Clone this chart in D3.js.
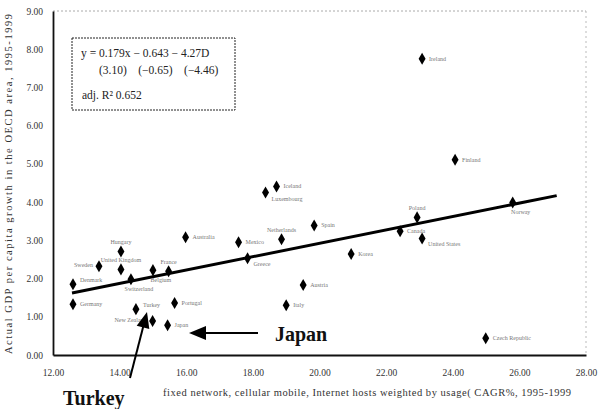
<!DOCTYPE html>
<html>
<head>
<meta charset="utf-8">
<script src="https://cdn.jsdelivr.net/npm/d3@7"></script>
<style>
  html, body { margin: 0; padding: 0; background: #fff; }
  svg { display: block; }
  text { font-family: "Liberation Serif", "DejaVu Serif", serif; }
</style>
</head>
<body>
<svg id="chart" width="599" height="409"></svg>
<script>
// ---------- data ----------
const countries = ["Ireland","Finland","Iceland","Luxembourg","Spain","Netherlands","Mexico","Australia",
  "Korea","Greece","Poland","Canada","United States","Norway","Austria","Italy","Czech Republic",
  "Hungary","Sweden","United Kingdom","Belgium","France","Denmark","Switzerland","Germany","Portugal",
  "Turkey","New Zealand","Japan"];
const telecomGrowth = [23.08,24.07,18.71,18.38,19.84,18.86,17.57,15.98,
  20.95,17.84,22.93,22.42,23.08,25.80,19.51,19.00,24.99,
  14.04,13.38,14.04,15.00,15.47,12.60,14.34,12.60,15.65,
  14.49,14.99,15.44];
const gdpGrowth = [7.75,5.11,4.41,4.25,3.39,3.03,2.95,3.08,
  2.64,2.53,3.60,3.24,3.05,3.99,1.83,1.30,0.44,
  2.71,2.32,2.24,2.22,2.19,1.85,1.98,1.33,1.36,
  1.20,0.89,0.78];
const fitX = [12.57, 27.12];
const fitY = [1.62, 4.17];
const xTicks = [12,14,16,18,20,22,24,26,28];
const yTicks = [0,1,2,3,4,5,6,7,8,9];
const eqLines = ["y = 0.179x \u2212 0.643 \u2212 4.27D", "(3.10)    (\u22120.65)    (\u22124.46)"];
const r2Label = "adj. R\u00b2 0.652";
const xTitle = "fixed network, cellular mobile, Internet hosts weighted by usage( CAGR%, 1995-1999";
const yTitle = "Actual GDP per capita growth in the OECD area, 1995-1999";

// label placement (style only)
const place = {
  "Luxembourg":"rightLow","Netherlands":"above","Greece":"rightLow","Poland":"above",
  "United States":"rightLow","Norway":"below","Hungary":"above","Sweden":"left",
  "United Kingdom":"above","Belgium":"below","France":"above","Switzerland":"below",
  "New Zealand":"left","Denmark":"rightHigh","Turkey":"rightHigh"
};

// ---------- chart ----------
const svg = d3.select("#chart");
const x = d3.scaleLinear().domain([12, 28]).range([53, 586]);
const y = d3.scaleLinear().domain([0, 9]).range([355, 11]);

// frame: dotted top/right
svg.append("line").attr("x1", x(12)).attr("x2", x(28)).attr("y1", y(9)).attr("y2", y(9))
  .attr("stroke", "#aaa").attr("stroke-width", 1).attr("stroke-dasharray", "2,2");
svg.append("line").attr("x1", x(28)).attr("x2", x(28)).attr("y1", y(9)).attr("y2", y(0))
  .attr("stroke", "#bbb").attr("stroke-width", 1).attr("stroke-dasharray", "2,3");

// axes
const xAxis = svg.append("g").attr("transform", `translate(0,${y(0)})`)
  .call(d3.axisBottom(x).tickValues(xTicks).tickFormat(d3.format(".2f")).tickSize(0).tickPadding(14));
const yAxis = svg.append("g").attr("transform", `translate(${x(12)},0)`)
  .call(d3.axisLeft(y).tickValues(yTicks).tickFormat(d3.format(".2f")).tickSize(0).tickPadding(10));
[xAxis, yAxis].forEach(g => {
  g.select(".domain").attr("stroke", "#111").attr("stroke-width", 1.8);
  g.selectAll("text").attr("font-family", "Liberation Serif, serif").attr("font-size", 9.5).attr("fill", "#333");
});

// regression line
svg.append("line")
  .attr("x1", x(fitX[0])).attr("y1", y(fitY[0]))
  .attr("x2", x(fitX[1])).attr("y2", y(fitY[1]))
  .attr("stroke", "#000").attr("stroke-width", 3);

// points
const pts = countries.map((c, i) => ({c, gx: telecomGrowth[i], gy: gdpGrowth[i]}));
svg.append("g").selectAll("path").data(pts).join("path")
  .attr("transform", d => `translate(${x(d.gx)},${y(d.gy)})`)
  .attr("d", d3.symbol().type(d3.symbolDiamond).size(42))
  .attr("fill", "#000");

svg.append("g").selectAll("text").data(pts).join("text")
  .attr("font-size", 6).attr("fill", "#777")
  .each(function(d) {
    const p = place[d.c] || "right";
    const px = x(d.gx), py = y(d.gy);
    let tx = px + 7, ty = py + 2, anchor = "start";
    if (p === "rightLow") { tx = px + 6; ty = py + 8; }
    if (p === "rightHigh") { tx = px + 7; ty = py - 2; }
    if (p === "above") { tx = px; ty = py - 7; anchor = "middle"; }
    if (p === "below") { tx = px + 8; ty = py + 12; anchor = "middle"; }
    if (p === "left") { tx = px - 6; ty = py + 1; anchor = "end"; }
    d3.select(this).attr("x", tx).attr("y", ty).attr("text-anchor", anchor).text(d.c);
  });

// equation box
svg.append("rect").attr("x", 72).attr("y", 38).attr("width", 163).attr("height", 72)
  .attr("fill", "#fff").attr("stroke", "#222").attr("stroke-width", 1).attr("stroke-dasharray", "2,1");
svg.append("text").attr("x", 81).attr("y", 57).attr("font-size", 11.5).attr("fill", "#222").text(eqLines[0]);
svg.append("text").attr("x", 99).attr("y", 74).attr("font-size", 11.5).attr("fill", "#222").attr("xml:space", "preserve").text(eqLines[1]);
svg.append("text").attr("x", 82).attr("y", 99).attr("font-size", 11.5).attr("fill", "#222").text(r2Label);

// axis titles
svg.append("text").attr("x", 163).attr("y", 396)
  .attr("textLength", 408).attr("lengthAdjust", "spacing")
  .attr("font-size", 10.5).attr("fill", "#333").text(xTitle);
svg.append("text").attr("transform", "translate(12,354) rotate(-90)")
  .attr("textLength", 340).attr("lengthAdjust", "spacing")
  .attr("font-size", 10.5).attr("fill", "#333").text(yTitle);

// annotations with arrows
function arrow(x1, y1, x2, y2, headLen, headW) {
  const dx = x2 - x1, dy = y2 - y1, L = Math.hypot(dx, dy);
  const ux = dx / L, uy = dy / L;
  const bx = x2 - ux * headLen, by = y2 - uy * headLen;
  svg.append("line").attr("x1", x1).attr("y1", y1).attr("x2", bx + ux * 2).attr("y2", by + uy * 2)
    .attr("stroke", "#000").attr("stroke-width", 2);
  svg.append("path")
    .attr("d", `M${x2},${y2}L${bx - uy * headW},${by + ux * headW}L${bx + uy * headW},${by - ux * headW}Z`)
    .attr("fill", "#000");
}
arrow(258, 333, 189, 333, 17, 7);
arrow(130, 378, 147, 312, 16, 6.5);

svg.append("text").attr("x", 275).attr("y", 341).attr("font-size", 20).attr("font-weight", "bold")
  .attr("fill", "#111").text("Japan");
svg.append("text").attr("x", 63).attr("y", 405).attr("font-size", 20).attr("font-weight", "bold")
  .attr("fill", "#111").text("Turkey");
</script>
</body>
</html>
